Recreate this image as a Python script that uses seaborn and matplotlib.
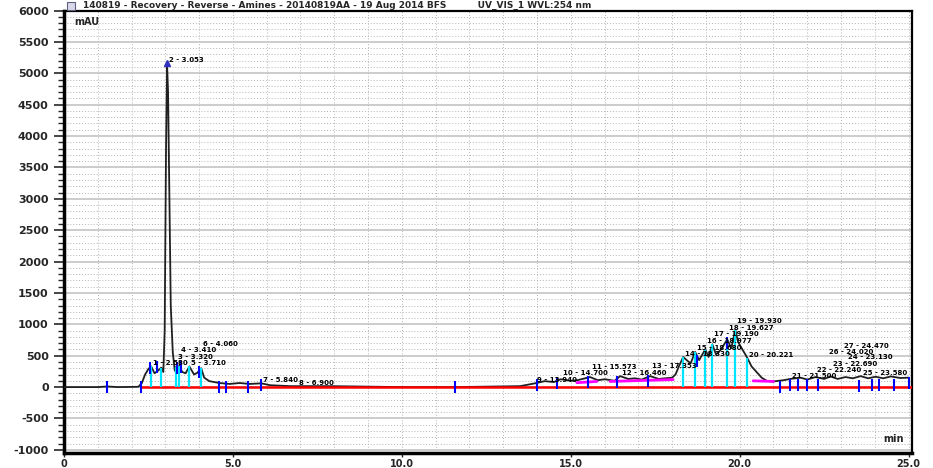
import matplotlib
matplotlib.use("Agg")
import matplotlib.pyplot as plt
import matplotlib.patches as patches
from matplotlib.ticker import MultipleLocator, FixedLocator
import seaborn as sns
import pandas as pd

# chromatogram trace (retention time in min, signal in mAU)
time_min = [0.0, 1.0, 1.28, 1.6, 2.2, 2.3, 2.4, 2.5, 2.58, 2.68, 2.78, 2.88, 2.94,
            2.98, 3.02, 3.05, 3.08, 3.12, 3.16, 3.22, 3.28, 3.32, 3.37, 3.41, 3.5,
            3.6, 3.71, 3.85, 3.95, 4.06, 4.15, 4.3, 4.6, 4.9, 5.2, 5.5, 5.84, 6.1,
            6.7, 7.9, 10.0, 11.57, 13.5, 13.94, 14.23, 14.5, 14.7, 15.0, 15.2,
            15.57, 15.8, 16.01, 16.3, 16.46, 16.7, 16.9, 17.1, 17.35, 17.6, 17.79,
            18.0, 18.1, 18.2, 18.33, 18.45, 18.55, 18.68, 18.8, 18.98, 19.08,
            19.19, 19.3, 19.45, 19.63, 19.75, 19.87, 19.95, 20.08, 20.22, 20.35,
            20.5, 20.65, 20.8, 21.0, 21.3, 21.5, 21.8, 22.0, 22.24, 22.5, 22.69,
            22.9, 23.13, 23.35, 23.58, 23.8, 24.02, 24.25, 24.47, 24.75, 25.0]
signal_mau = [0, 0, 10, 0, 5, 60, 200, 290, 330, 220, 260, 310, 240,
              900, 3800, 5160, 4700, 3000, 1300, 550, 260, 320, 260, 340, 240,
              220, 330, 200, 230, 300, 150, 95, 65, 50, 65, 50, 60, 30,
              15, 15, 0, 0, 15, 60, 95, 80, 125, 100, 110,
              160, 110, 125, 100, 175, 130, 140, 120, 175, 130, 140,
              150, 200, 330, 480, 420, 380, 560, 430, 600, 480,
              680, 520, 600, 760, 620, 910, 720, 600, 470, 330,
              240, 150, 100, 90, 110, 130, 150, 120, 160, 130, 170,
              130, 160, 140, 175, 140, 165, 140, 170, 145, 150]

# peak apex drop lines
cyan_t = [2.58, 2.88, 3.32, 3.41, 3.71, 4.06, 18.33, 18.68, 18.98, 19.19, 19.63, 19.87, 20.22]
cyan_v = [330, 310, 320, 340, 330, 300, 480, 560, 600, 680, 760, 910, 470]

# peak delimiter marks
blue_t = [1.28, 2.28, 2.55, 2.76, 3.35, 3.47, 4.0, 4.6, 4.8, 5.45, 5.84, 11.57,
          14.0, 14.59, 15.51, 16.37, 17.29, 18.74, 19.63, 21.2, 21.5, 21.73,
          22.0, 22.33, 23.52, 23.93, 24.11, 24.56, 25.0]
blue_v = [0, 0, 300, 320, 310, 320, 240, 0, 0, 0, 30, 0,
          40, 60, 80, 80, 90, 420, 700, 0, 40, 30,
          30, 40, 20, 30, 40, 30, 60]

# magenta baseline segments
mag_t0 = [15.18, 16.16, 20.4]
mag_t1 = [15.77, 18.03, 21.0]
mag_v0 = [70, 90, 100]
mag_v1 = [90, 120, 90]

# peak labels
label_t = [2.58, 3.05, 3.32, 3.41, 3.71, 4.06, 5.84, 6.9,
           13.94, 14.7, 15.57, 16.46, 17.35, 18.33, 18.68, 18.98, 19.19,
           19.63, 19.87, 20.22, 21.5, 22.24, 22.69, 23.13, 23.58, 24.02, 24.47]
label_v = [330, 5160, 320, 340, 330, 300, 60, 20,
           60, 125, 160, 175, 175, 480, 560, 600, 680,
           760, 910, 470, 130, 160, 170, 160, 175, 165, 170]
label_txt = ["1 - 2.580", "2 - 3.053", "3 - 3.320", "4 - 3.410", "5 - 3.710",
             "6 - 4.060", "7 - 5.840", "8 - 6.900",
             "9 - 13.940", "10 - 14.700", "11 - 15.573", "12 - 16.460",
             "13 - 17.353", "14 - 18.330", "15 - 18.680", "16 - 18.977",
             "17 - 19.190", "18 - 19.627", "19 - 19.930", "20 - 20.221",
             "21 - 21.500", "22 - 22.240", "23 - 22.690", "24 - 23.130",
             "25 - 23.580", "26 - 24.020", "27 - 24.470"]

x_ticks = [0, 5, 10, 15, 20, 25]
x_tick_labels = ["0", "5.0", "10.0", "15.0", "20.0", "25.0"]
y_ticks = [-1000, -500, 0, 500, 1000, 1500, 2000, 2500, 3000, 3500, 4000, 4500, 5000, 5500, 6000]
y_tick_labels = ["-1000", "-500", "0", "500", "1000", "1500", "2000", "2500", "3000",
                 "3500", "4000", "4500", "5000", "5500", "6000"]

title = ("140819 - Recovery - Reverse - Amines - 20140819AA - 19 Aug 2014 BFS"
         "          UV_VIS_1 WVL:254 nm")

sns.set_style("white")
plt.rcParams['font.family'] = ['DejaVu Sans']

fig = plt.figure(figsize=(9.33, 4.68), dpi=100)
ax = fig.add_axes([64 / 933, 1 - 453 / 468, (912 - 64) / 933, (453 - 10.5) / 468])

# grid
ax.yaxis.set_major_locator(FixedLocator(y_ticks))
ax.yaxis.set_minor_locator(MultipleLocator(100))
ax.xaxis.set_major_locator(FixedLocator(x_ticks))
ax.xaxis.set_minor_locator(MultipleLocator(1))
ax.grid(which='major', axis='y', color='#c8c8c8', lw=1.3, ls='-')
ax.grid(which='minor', axis='y', color='#b4b4b4', lw=0.7, ls=(0, (1, 2)))
ax.grid(which='both', axis='x', color='#b4b4b4', lw=0.7, ls=(0, (1, 2)))
ax.set_axisbelow(True)

df = pd.DataFrame({"time": time_min, "signal": signal_mau})
sns.lineplot(data=df, x="time", y="signal", ax=ax, color="#202020", lw=1.3,
             sort=False, estimator=None, zorder=3)

# baseline
sns.lineplot(x=[2.3, 25.1], y=[0, 0], ax=ax, color="#ff0000", lw=1.8, zorder=4)

for t0, t1, v0, v1 in zip(mag_t0, mag_t1, mag_v0, mag_v1):
    ax.plot([t0, t1], [v0, v1], color="#ff00ff", lw=2, zorder=4)

ax.vlines(cyan_t, 0, cyan_v, colors="#00e5ff", lw=1.6, zorder=4)

sns.scatterplot(x=blue_t, y=blue_v, ax=ax, marker="|", s=70, color="#0000ff",
                linewidth=1.5, zorder=5)

# apex marker on main peak
ax.plot([3.05], [5160], marker="^", color="#3030c0", ms=4, zorder=6)

ax.set_xlim(0, 25.1)
ax.set_ylim(-1050, 6000)
ax.set_xticklabels(x_tick_labels)
ax.set_yticklabels(y_tick_labels)
ax.set_xlabel("")
ax.set_ylabel("")

for side in ['left', 'bottom']:
    ax.spines[side].set_linewidth(2.5)
for side in ['top', 'right']:
    ax.spines[side].set_linewidth(1.6)
for s in ax.spines.values():
    s.set_color('black')

ax.tick_params(axis='y', which='major', direction='out', length=7, width=1.2,
               labelsize=8, pad=4, left=True)
ax.tick_params(axis='y', which='minor', direction='out', length=4, width=1, left=True)
ax.tick_params(axis='x', which='major', direction='out', length=3, width=1,
               labelsize=7, pad=1, bottom=True)
ax.tick_params(axis='x', which='minor', length=0)
for lab in ax.get_xticklabels() + ax.get_yticklabels():
    lab.set_fontweight('bold')

ax.text(0.012, 0.985, "mAU", transform=ax.transAxes, fontsize=7, fontweight='bold',
        ha='left', va='top')
ax.text(0.99, 0.02, "min", transform=ax.transAxes, fontsize=7, fontweight='bold',
        ha='right', va='bottom')

# window icon and title
fig.patches.append(patches.Rectangle((67 / 933, 1 - 10 / 468), 8 / 933, 8 / 468,
                                     transform=fig.transFigure, facecolor='#d8d8e8',
                                     edgecolor='#606080', lw=0.8))
fig.text(83 / 933, 1 - 5 / 468, title, fontsize=6.5, fontweight='bold',
         ha='left', va='center')

# peak labels, nudged up just enough so they don't collide
fig.canvas.draw()
renderer = fig.canvas.get_renderer()
ax_box = ax.get_window_extent(renderer)
placed = []
for t, v, s in zip(label_t, label_v, label_txt):
    lift = 0
    ann = ax.annotate(s, (t, v), xytext=(1.5, lift), textcoords='offset points',
                      fontsize=5, fontweight='bold', color='black',
                      ha='left', va='bottom', zorder=6)
    bb = ann.get_window_extent(renderer)
    if bb.x1 > ax_box.x1 - 2:
        ann.set_ha('right')
        ann.set_position((-1.5, lift))
        bb = ann.get_window_extent(renderer)
    while any(bb.overlaps(p) for p in placed):
        lift += 1
        ann.set_position((ann.get_position()[0], lift))
        bb = ann.get_window_extent(renderer)
    placed.append(bb.expanded(1.0, 0.9))

fig.savefig("out.png", dpi=100)
